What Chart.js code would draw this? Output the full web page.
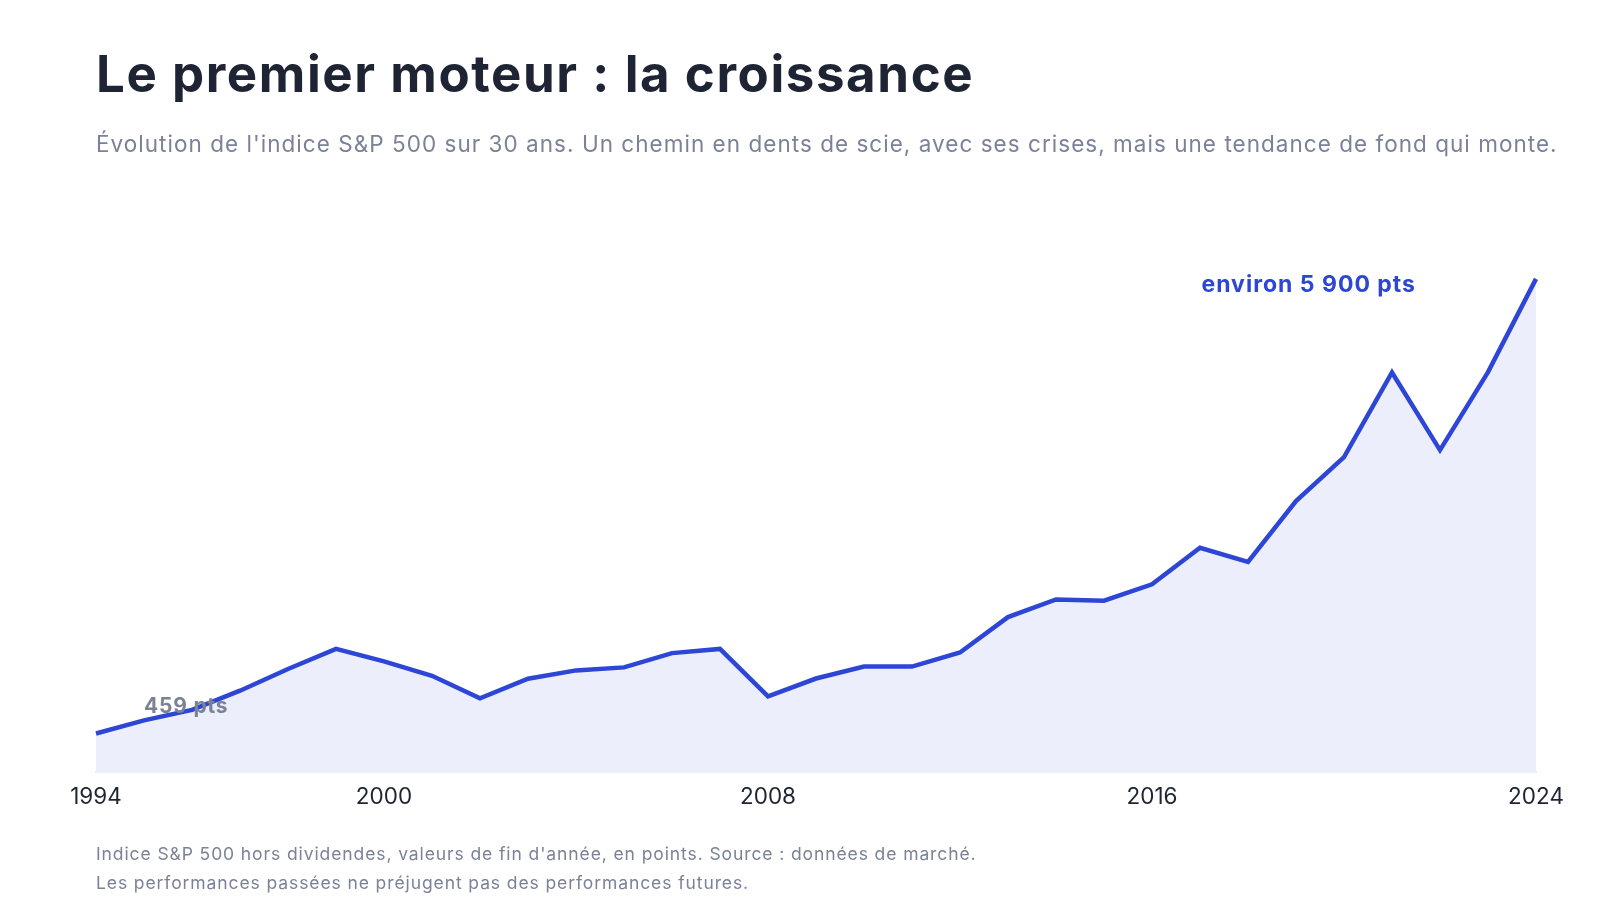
<!DOCTYPE html>
<html lang="fr">
<head>
<meta charset="utf-8">
<script src="https://cdn.jsdelivr.net/npm/chart.js@4.4.1/dist/chart.umd.min.js"></script>
<style>
  html, body { margin: 0; padding: 0; background: #ffffff; }
  body { width: 1600px; height: 919px; position: relative; overflow: hidden; font-family: Inter, "Open Sans", sans-serif; }
  #wrap { position: absolute; left: 0; top: 0; width: 1600px; height: 919px; }
  .t { position: absolute; left: 96px; white-space: nowrap; z-index: 2; }
  #title { top: 44px; font-size: 51px; font-weight: 700; color: #1e2433; letter-spacing: 1.58px; line-height: 60px; }
  #sub { top: 129px; font-size: 22.5px; color: #7b8298; line-height: 30px; letter-spacing: 1.03px; }
  #foot { top: 840px; font-size: 17.5px; color: #7b8298; line-height: 28.5px; letter-spacing: 0.9px; }
</style>
</head>
<body>
<div id="title" class="t">Le premier moteur : la croissance</div>
<div id="sub" class="t">Évolution de l'indice S&amp;P 500 sur 30 ans. Un chemin en dents de scie, avec ses crises, mais une tendance de fond qui monte.</div>
<div id="wrap"><canvas id="c" width="1600" height="919"></canvas></div>
<div id="foot" class="t">Indice S&amp;P 500 hors dividendes, valeurs de fin d'année, en points. Source : données de marché.<br>Les performances passées ne préjugent pas des performances futures.</div>
<script>
const years = ["1994","1995","1996","1997","1998","1999","2000","2001","2002","2003","2004","2005","2006","2007","2008","2009","2010","2011","2012","2013","2014","2015","2016","2017","2018","2019","2020","2021","2022","2023","2024"];
const spValues = [459, 616, 741, 970, 1229, 1469, 1320, 1148, 880, 1112, 1212, 1248, 1418, 1468, 903, 1115, 1258, 1258, 1426, 1848, 2059, 2044, 2239, 2674, 2507, 3231, 3756, 4766, 3840, 4770, 5882];
const tickYears = ["1994","2000","2008","2016","2024"];
const startLabel = "459 pts";
const endLabel = "environ 5 900 pts";

const annot = {
  id: 'annot',
  afterDatasetsDraw(chart) {
    const meta = chart.getDatasetMeta(0);
    const ctx = chart.ctx;
    const p0 = meta.data[0], p1 = meta.data[1], pl = meta.data[meta.data.length - 1];
    ctx.save();
    ctx.textBaseline = 'middle';
    ctx.letterSpacing = '0.8px';
    ctx.font = '700 21px Inter, "Open Sans", sans-serif';
    ctx.fillStyle = '#7b8298';
    ctx.textAlign = 'left';
    ctx.fillText(startLabel, p1.x, p0.y - 27);
    ctx.letterSpacing = '1px';
    ctx.font = '700 23px Inter, "Open Sans", sans-serif';
    ctx.fillStyle = '#2d46d6';
    ctx.textAlign = 'right';
    ctx.fillText(endLabel, pl.x - 120, pl.y + 6);
    ctx.restore();
  }
};

new Chart(document.getElementById('c'), {
  type: 'line',
  data: {
    labels: years,
    datasets: [{
      data: spValues,
      borderColor: '#2d46d6',
      backgroundColor: '#eceffb',
      borderWidth: 4.5,
      fill: 'origin',
      tension: 0,
      pointRadius: 0,
      pointHoverRadius: 0,
      borderJoinStyle: 'miter'
    }]
  },
  options: {
    responsive: false,
    animation: false,
    events: [],
    layout: { padding: { left: 96, right: 64, top: 269, bottom: 96 } },
    plugins: { legend: { display: false }, tooltip: { enabled: false } },
    scales: {
      x: {
        offset: false,
        grid: { display: false, drawTicks: false },
        border: { display: true, color: '#e1e4ef', width: 1.5 },
        ticks: {
          autoSkip: false,
          maxRotation: 0,
          padding: 12,
          color: '#1e2433',
          font: { family: 'Inter, "Open Sans", sans-serif', size: 22.5 },
          callback: function(v) { const l = this.getLabelForValue(v); return tickYears.includes(l) ? l : ''; }
        }
      },
      y: { display: false, min: 0, max: 6000 }
    }
  },
  plugins: [annot]
});
</script>
</body>
</html>
